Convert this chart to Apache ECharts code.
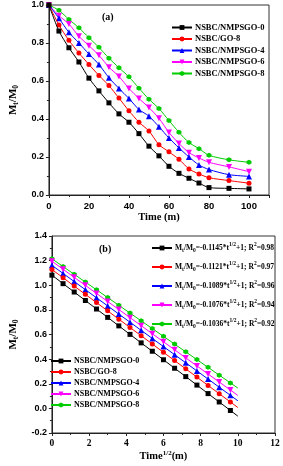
<!DOCTYPE html>
<html><head><meta charset="utf-8">
<script src="https://cdn.jsdelivr.net/npm/echarts@6/dist/echarts.min.js"></script>
<style>html,body{margin:0;padding:0;background:#fff}#c{width:283px;height:466px}</style>
</head><body><div id="c"></div>
<script>
const names = ['NSBC/NMPSGO-0','NSBC/GO-8','NSBC/NMPSGO-4','NSBC/NMPSGO-6','NSBC/NMPSGO-8'];
const colors = ['#000000','#ff0000','#0000ff','#ff00ff','#00cc00'];
const hexagon = 'path://M5,0 L9.33,2.5 L9.33,7.5 L5,10 L0.67,7.5 L0.67,2.5 Z';
const symbols = ['rect','circle','triangle','path://M0,0 L10,0 L5,9 Z', hexagon];

// panel (a)
const timeA = [0,5,10,15,20,25,30,35,40,45,50,55,60,65,70,75,80,90,100];
const a0 = [1.0,0.863,0.775,0.700,0.615,0.548,0.485,0.427,0.383,0.323,0.257,0.206,0.151,0.114,0.088,0.063,0.039,0.035,0.032];
const a1 = [1.0,0.895,0.814,0.747,0.687,0.629,0.576,0.510,0.443,0.383,0.337,0.265,0.227,0.188,0.137,0.111,0.091,0.076,0.062];
const a2 = [1.0,0.930,0.856,0.800,0.742,0.687,0.617,0.561,0.508,0.450,0.415,0.359,0.300,0.248,0.200,0.158,0.134,0.107,0.098];
const a3 = [1.0,0.944,0.900,0.835,0.786,0.735,0.673,0.624,0.561,0.508,0.460,0.404,0.329,0.271,0.223,0.195,0.172,0.148,0.123];
const a4 = [1.0,0.972,0.924,0.880,0.828,0.777,0.720,0.670,0.622,0.562,0.504,0.455,0.392,0.330,0.276,0.244,0.209,0.185,0.172];
const seriesA = [a0,a1,a2,a3,a4];

// panel (b)
const timeB = [0,0.6,1.2,1.8,2.4,3.0,3.6,4.2,4.8,5.4,6.0,6.6,7.2,7.8,8.4,9.0,9.6,10];
const b0 = [1.082,1.013,0.945,0.876,0.807,0.739,0.670,0.601,0.532,0.464,0.395,0.326,0.258,0.189,0.120,0.052,-0.017,-0.063];
const b1 = [1.128,1.061,0.993,0.926,0.859,0.792,0.724,0.657,0.590,0.523,0.455,0.388,0.321,0.254,0.186,0.119,0.052,0.007];
const b2 = [1.162,1.096,1.030,0.964,0.898,0.832,0.766,0.700,0.634,0.568,0.502,0.436,0.370,0.304,0.238,0.172,0.106,0.062];
const b3 = [1.195,1.130,1.064,0.999,0.933,0.868,0.803,0.737,0.672,0.606,0.541,0.476,0.410,0.345,0.279,0.214,0.149,0.105];
const b4 = [1.215,1.152,1.089,1.026,0.963,0.900,0.837,0.774,0.711,0.648,0.585,0.522,0.459,0.396,0.333,0.270,0.207,0.165];
const seriesB = [b0,b1,b2,b3,b4];
const slopes = ['-0.1145','-0.1121','-0.1089','-0.1076','-0.1036'];
const r2 = ['0.98','0.97','0.96','0.94','0.92'];
const eqNames = ['eq0','eq1','eq2','eq3','eq4'];

const serif = 'Liberation Serif';
const sans = 'Liberation Sans';

const chart = echarts.init(document.getElementById('c'), null, {renderer:'canvas'});

const series = [];
seriesA.forEach((arr,i)=>{
  series.push({
    name: names[i], type:'line', xAxisIndex:0, yAxisIndex:0,
    data: timeA.map((t,j)=>[t,arr[j]]),
    symbol: symbols[i], symbolSize: i===2||i===3 ? 6 : 5, smooth: 0.25,
    lineStyle:{color:colors[i], width:1}, itemStyle:{color:colors[i]},
    animation:false, z: 10-i
  });
});
seriesB.forEach((arr,i)=>{
  series.push({
    name: names[i], type:'line', xAxisIndex:1, yAxisIndex:1,
    data: timeB.map((t,j)=> j===timeB.length-1 ? {value:[t,arr[j]], symbol:'none'} : [t,arr[j]]),
    symbol: symbols[i], symbolSize: i===2||i===3 ? 6 : 5,
    lineStyle:{color:colors[i], width:1}, itemStyle:{color:colors[i]},
    animation:false, z: 10-i
  });
});
eqNames.forEach((n,i)=>{
  series.push({
    name:n, type:'line', xAxisIndex:1, yAxisIndex:1, data:[],
    symbol: symbols[i], symbolSize:5,
    lineStyle:{color:colors[i], width:1}, itemStyle:{color:colors[i]}, animation:false
  });
});

const axisCommon = {
  axisLine:{show:true, onZero:false, lineStyle:{color:'#222', width:1}},
  axisTick:{show:true, inside:false, length:3, lineStyle:{color:'#222'}},
  minorTick:{show:true, splitNumber:2, length:2, lineStyle:{color:'#222'}},
  splitLine:{show:false}
};

const eqRich = {
  n:{fontFamily:serif, fontWeight:'bold', fontSize:7.5, color:'#000', lineHeight:12},
  s:{fontFamily:serif, fontWeight:'bold', fontSize:5.5, color:'#000', verticalAlign:'bottom', lineHeight:8, padding:[4,0,0,0]},
  p:{fontFamily:serif, fontWeight:'bold', fontSize:5.5, color:'#000', verticalAlign:'top', lineHeight:8, padding:[0,0,4,0]}
};
const yNameRich = {
  n:{fontFamily:serif, fontWeight:'bold', fontSize:11, color:'#000'},
  s:{fontFamily:serif, fontWeight:'bold', fontSize:7.5, color:'#000', verticalAlign:'bottom', padding:[6,0,0,0]}
};

chart.setOption({
  backgroundColor:'#fff',
  animation:false,
  title:[
    {text:'(a)', left:97, top:7, textStyle:{fontFamily:serif, fontWeight:'bold', fontSize:10, color:'#000'}},
    {text:'(b)', left:94, top:239, textStyle:{fontFamily:serif, fontWeight:'bold', fontSize:10, color:'#000'}}
  ],
  grid:[
    {left:35, top:5, width:234, height:190, show:true, borderColor:'#333', borderWidth:1, backgroundColor:'transparent'},
    {left:37, top:236, width:238, height:197, show:true, borderColor:'#333', borderWidth:1, backgroundColor:'transparent'}
  ],
  xAxis:[
    Object.assign({}, axisCommon, {type:'value', gridIndex:0, min:0, max:110, interval:20,
      axisLabel:{showMinLabel:true, showMaxLabel:false, fontFamily:sans, fontWeight:'bold', fontSize:9.5, color:'#000', margin:6},
      name:'Time (m)', nameLocation:'middle', nameGap:17,
      nameTextStyle:{fontFamily:serif, fontWeight:'bold', fontSize:10.5, color:'#000'}}),
    Object.assign({}, axisCommon, {type:'value', gridIndex:1, min:0, max:12, interval:2,
      axisLabel:{showMinLabel:true, showMaxLabel:true, fontFamily:serif, fontWeight:'bold', fontSize:9.5, color:'#000', margin:6},
      name:'{n|Time}{p|1/2}{n|(m)}', nameLocation:'middle', nameGap:16,
      nameTextStyle:{rich:{
        n:{fontFamily:serif, fontWeight:'bold', fontSize:10.5, color:'#000'},
        p:{fontFamily:serif, fontWeight:'bold', fontSize:7, color:'#000', verticalAlign:'top', padding:[0,0,5,0]}
      }}})
  ],
  yAxis:[
    Object.assign({}, axisCommon, {type:'value', gridIndex:0, min:0, max:1.0, interval:0.2,
      axisLabel:{showMinLabel:true, showMaxLabel:true, fontFamily:sans, fontWeight:'bold', fontSize:9, color:'#000', margin:5, formatter:v=>v.toFixed(1)},
      name:'{n|M}{s|t}{n|/M}{s|0}', nameLocation:'middle', nameGap:25, nameRotate:90,
      nameTextStyle:{rich:yNameRich}}),
    Object.assign({}, axisCommon, {type:'value', gridIndex:1, min:-0.2, max:1.4, interval:0.2,
      axisLabel:{showMinLabel:true, showMaxLabel:true, fontFamily:sans, fontWeight:'bold', fontSize:9, color:'#000', margin:5, formatter:v=>v.toFixed(1)},
      name:'{n|M}{s|t}{n|/M}{s|0}', nameLocation:'middle', nameGap:26, nameRotate:90,
      nameTextStyle:{rich:yNameRich}})
  ],
  legend:[
    {data:names, orient:'vertical', left:166, top:18, itemWidth:20, itemHeight:6, itemGap:2.5,
     textStyle:{fontFamily:serif, fontWeight:'bold', fontSize:8.5, color:'#000', padding:[0,0,0,-2]},
     selectedMode:false},
    {data:eqNames, orient:'vertical', left:146, top:237, itemWidth:20, itemHeight:6, itemGap:7,
     formatter: n => { const i = eqNames.indexOf(n); return `{n|M}{s|t}{n|/M}{s|0}{n|=${slopes[i]}*t}{p|1/2}{n|+1; R}{p|2}{n|=${r2[i]}}`; },
     textStyle:{rich:eqRich, padding:[0,0,0,-2]}, selectedMode:false},
    {data:names, orient:'vertical', left:45, top:352, itemWidth:20, itemHeight:6, itemGap:3,
     textStyle:{fontFamily:serif, fontWeight:'bold', fontSize:8, color:'#000', padding:[0,0,0,-2]},
     selectedMode:false}
  ],
  series: series
});
</script></body></html>
